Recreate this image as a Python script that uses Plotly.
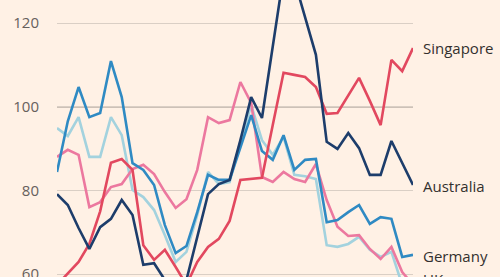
import plotly.graph_objects as go

quarters = list(range(34))

australia = [79.1, 76.5, 71.0, 66.0, 71.2, 73.2, 77.7, 74.1, 62.2, 62.6,
             58.6, 56.0, 58.6, 69.1, 79.1, 81.5, 82.5, 92.0, 102.3, 97.3,
             113.5, 131.5, 130.3, 121.5, 112.4, 91.6, 89.9, 93.7, 90.1, 83.7,
             83.7, 91.8, 86.5, 81.3]

germany = [84.4, 96.5, 104.7, 97.5, 98.5, 110.9, 102.3, 86.5, 84.9, 81.3,
           71.7, 65.0, 66.7, 74.8, 83.7, 82.5, 82.5, 90.1, 98.0, 89.4,
           87.3, 93.2, 84.9, 87.3, 87.5, 72.4, 72.9, 74.8, 76.5, 72.0,
           73.6, 73.2, 64.1, 64.6]

light_blue = [94.9, 93.0, 97.5, 88.0, 88.0, 97.5, 93.2, 80.1, 78.4, 75.3,
              69.3, 62.9, 65.3, 74.1, 84.4, 81.5, 82.0, 91.6, 100.4, 92.0,
              88.5, 92.8, 83.7, 83.4, 82.7, 66.9, 66.5, 67.2, 68.9, 65.8,
              64.1, 65.3, 57.4, 55.0]

uk = [88.0, 89.7, 88.5, 76.0, 77.2, 80.8, 81.5, 85.1, 86.1, 83.9,
      79.6, 75.8, 77.9, 84.9, 97.5, 96.1, 96.8, 105.9, 100.9, 83.2,
      82.0, 84.4, 82.7, 82.0, 86.3, 77.7, 71.3, 69.1, 69.3, 66.0,
      63.6, 66.5, 60.5, 57.4]

singapore = [57.4, 60.2, 62.9, 67.2, 75.0, 86.6, 87.5, 84.9, 66.9, 63.4,
             65.8, 61.7, 57.4, 62.9, 66.5, 68.4, 72.7, 82.5, 82.7, 83.0,
             95.6, 108.1, 107.6, 107.1, 104.7, 98.3, 98.5, 102.8, 106.9, 101.4,
             95.6, 111.2, 108.5, 114.0]

y_ticks = [60, 80, 100, 120]
y_range = [59.3, 125.5]

series = [
    (light_blue, "#a3d2de"),
    (uk, "#ec789f"),
    (germany, "#2f8ac3"),
    (singapore, "#e2485f"),
    (australia, "#1d3d6b"),
]

fig = go.Figure()
for vals, color in series:
    fig.add_trace(go.Scatter(x=quarters, y=vals, mode="lines",
                             line=dict(color=color, width=2.6),
                             hoverinfo="skip", showlegend=False))

labels = [("Singapore", 114.0), ("Australia", 81.0),
          ("Germany", 64.3), ("UK", 58.8)]
for text, yv in labels:
    ypaper = (yv - y_range[0]) / (y_range[1] - y_range[0])
    fig.add_annotation(x=1, xref="paper", y=ypaper, yref="paper", text=text,
                       xanchor="left", yanchor="middle", xshift=8,
                       showarrow=False,
                       font=dict(family="Open Sans", size=15, color="#33302e"))

fig.add_shape(type="line", xref="paper", x0=0, x1=1, yref="y", y0=100, y1=100,
              line=dict(color="#3a3633", width=1.3), layer="below")

fig.update_layout(
    width=500, height=277,
    margin=dict(l=57, r=87, t=0, b=0, autoexpand=False),
    paper_bgcolor="#fff1e5", plot_bgcolor="#fff1e5",
    xaxis=dict(range=[0, 33], visible=False, automargin=False),
    yaxis=dict(range=y_range, tickvals=y_ticks, automargin=False,
               showgrid=True, gridcolor="#dacfc5", gridwidth=1,
               zeroline=False, showline=False,
               ticks="outside", ticklen=14, tickcolor="rgba(0,0,0,0)",
               ticklabeloverflow="allow",
               tickfont=dict(family="Open Sans", size=15, color="#66605c")),
)

fig.write_html("out.html")
